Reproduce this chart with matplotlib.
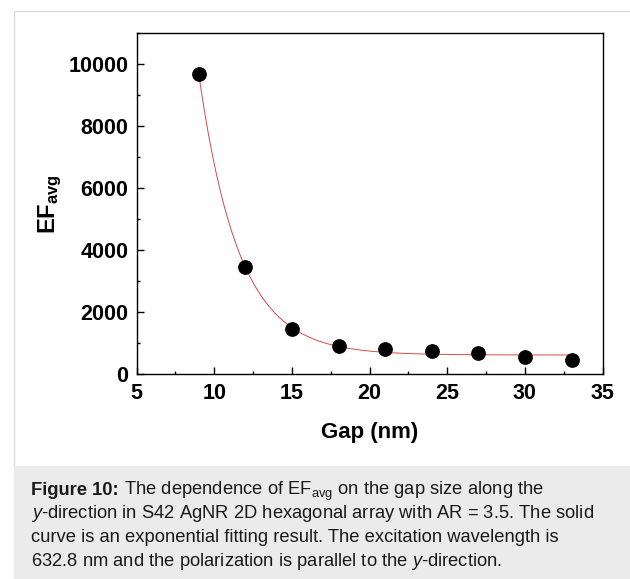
import numpy as np
import matplotlib.pyplot as plt
from matplotlib.patches import Rectangle
from matplotlib.ticker import MultipleLocator

plt.rcParams['font.family'] = ['Liberation Sans', 'DejaVu Sans']
plt.rcParams['mathtext.fontset'] = 'custom'
plt.rcParams['mathtext.rm'] = 'Liberation Sans'
plt.rcParams['mathtext.bf'] = 'Liberation Sans:bold'
plt.rcParams['mathtext.it'] = 'Liberation Sans:italic'

# average enhancement factor vs. gap size
gap_nm = [9, 12, 15, 18, 21, 24, 27, 30, 33]
ef_avg = [9700, 3460, 1457, 920, 804, 759, 675, 556, 460]

x_ticks = [5, 10, 15, 20, 25, 30, 35]
y_ticks = [0, 2000, 4000, 6000, 8000, 10000]

caption_head = 'Figure 10:'
caption_lines = [
    r' The dependence of EF$_{\mathrm{avg}}$ on the gap size along the',
    r'$\mathit{y}$-direction in S42 AgNR 2D hexagonal array with AR = 3.5. The solid',
    r'curve is an exponential fitting result. The excitation wavelength is',
    r'632.8 nm and the polarization is parallel to the $\mathit{y}$-direction.',
]


def exp_fit(x, y):
    # y = y0 + A*exp(-x/t): scan t, solve y0 and A by least squares
    x = np.asarray(x, float)
    y = np.asarray(y, float)
    best = None
    for t in np.linspace(0.5, 10, 2000):
        basis = np.column_stack([np.ones_like(x), np.exp(-x / t)])
        coef, *_ = np.linalg.lstsq(basis, y, rcond=None)
        err = np.sum((basis @ coef - y) ** 2)
        if best is None or err < best[0]:
            best = (err, coef[0], coef[1], t)
    return best[1:]


y0, A, t = exp_fit(gap_nm, ef_avg)
xs = np.linspace(min(gap_nm), max(gap_nm), 300)
ys = y0 + A * np.exp(-xs / t)

fig = plt.figure(figsize=(6.3, 5.79), dpi=100)
W, H = 630, 579

# outer frame and caption box
fig.patches.append(Rectangle((13.5 / W, 0), 1, 1 - 10.5 / H, transform=fig.transFigure,
                             facecolor='white', edgecolor='#dcdcdc', lw=1, zorder=-2))
fig.patches.append(Rectangle((14 / W, 0), 1, 1 - 466 / H, transform=fig.transFigure,
                             facecolor='#ebebeb', edgecolor='none', zorder=-1))

ax = fig.add_axes([136.6 / W, 1 - 374.3 / H, 466 / W, 341 / H])
ax.set_zorder(5)
ax.patch.set_alpha(0)
ax.plot(xs, ys, color='#d64a4a', lw=0.7, zorder=2)
ax.plot(gap_nm, ef_avg, 'o', color='black', ms=9.6, zorder=3)

ax.set_xlim(5, 35)
ax.set_ylim(0, 11000)
ax.set_xticks(x_ticks)
ax.set_yticks(y_ticks)
ax.xaxis.set_minor_locator(MultipleLocator(2.5))
ax.yaxis.set_minor_locator(MultipleLocator(1000))
ax.tick_params(which='both', direction='in', top=False, right=False, width=1.0)
ax.tick_params(which='major', length=4.8, labelsize=15.5, pad=6)
ax.tick_params(which='minor', length=2.5)
for lbl in ax.get_xticklabels() + ax.get_yticklabels():
    lbl.set_fontweight('bold')
for sp in ax.spines.values():
    sp.set_linewidth(1.0)

ax.set_xlabel('Gap (nm)', fontsize=16, fontweight='bold', labelpad=13)
ax.set_ylabel(r'$\mathbf{EF_{avg}}$', fontsize=17, labelpad=3)

# caption: bold head followed by plain text on the first line
cap_x = 31 / W
cap_kw = dict(fontsize=13.2, va='baseline', ha='left', color='#1a1a1a')
head = fig.text(cap_x, 1 - 495 / H, caption_head, fontweight='bold', **cap_kw)
renderer = fig.canvas.get_renderer()
head_w = head.get_window_extent(renderer).width / W
for i, line in enumerate(caption_lines):
    x0 = cap_x + head_w if i == 0 else cap_x
    fig.text(x0, 1 - (495 + 23.5 * i) / H, line, **cap_kw)

fig.savefig('out.png', dpi=100)
